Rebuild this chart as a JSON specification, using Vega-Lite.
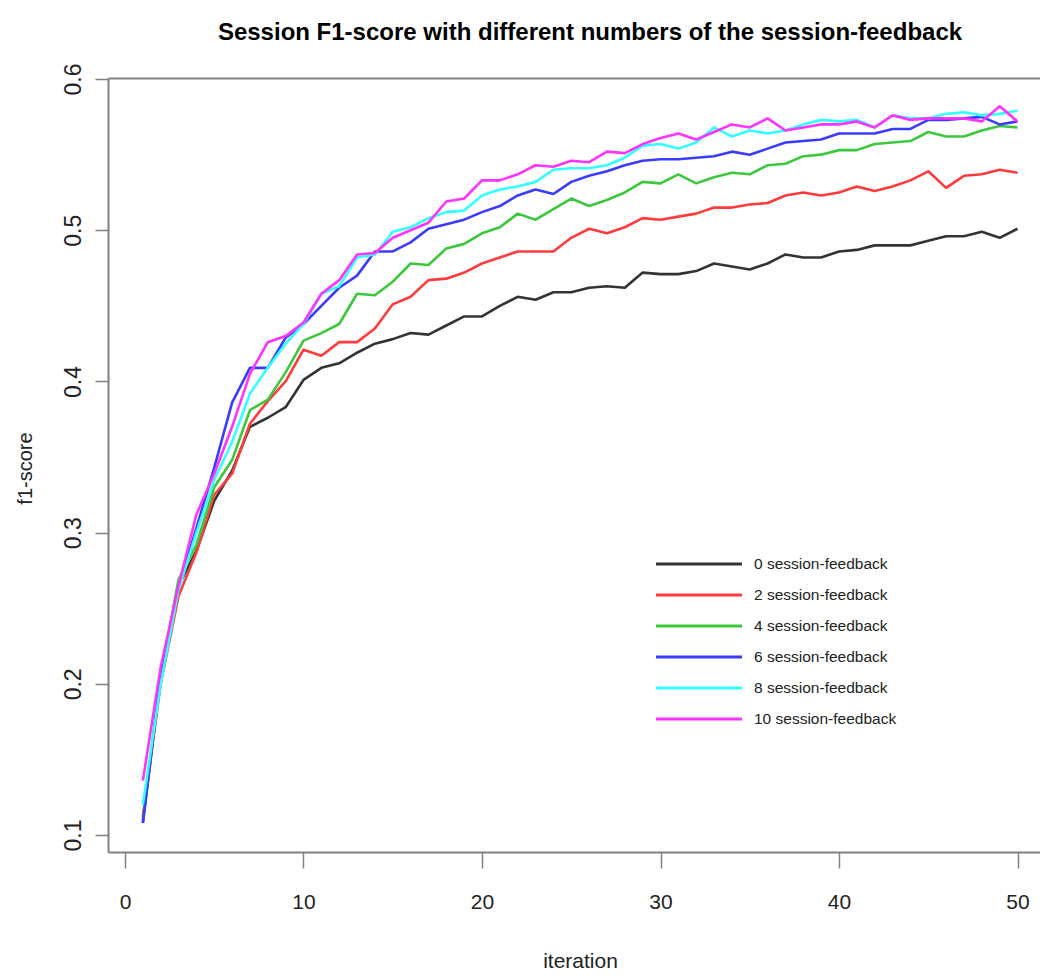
{
  "$schema": "https://vega.github.io/schema/vega-lite/v6.json",
  "width": 932,
  "height": 774,
  "autosize": {"type": "none"},
  "padding": {"left": 108, "top": 78, "right": 0, "bottom": 124},
  "background": "white",
  "title": {
    "text": "Session F1-score with different numbers of the session-feedback",
    "font": "Liberation Sans",
    "fontSize": 24,
    "fontWeight": "bold",
    "color": "#000000",
    "anchor": "middle",
    "dx": 16,
    "baseline": "alphabetic",
    "offset": -1
  },
  "config": {
    "view": {"stroke": null},
    "axis": {"grid": false, "domainColor": "#808080", "domainWidth": 2, "tickColor": "#808080", "tickWidth": 1.5}
  },
  "data": {
    "values": [
      {"iteration":1,"series":"0 session-feedback","f1":0.108},{"iteration":2,"series":"0 session-feedback","f1":0.205},{"iteration":3,"series":"0 session-feedback","f1":0.265},{"iteration":4,"series":"0 session-feedback","f1":0.288},{"iteration":5,"series":"0 session-feedback","f1":0.321},{"iteration":6,"series":"0 session-feedback","f1":0.341},{"iteration":7,"series":"0 session-feedback","f1":0.370},{"iteration":8,"series":"0 session-feedback","f1":0.376},{"iteration":9,"series":"0 session-feedback","f1":0.383},{"iteration":10,"series":"0 session-feedback","f1":0.401},
      {"iteration":11,"series":"0 session-feedback","f1":0.409},{"iteration":12,"series":"0 session-feedback","f1":0.412},{"iteration":13,"series":"0 session-feedback","f1":0.419},{"iteration":14,"series":"0 session-feedback","f1":0.425},{"iteration":15,"series":"0 session-feedback","f1":0.428},{"iteration":16,"series":"0 session-feedback","f1":0.432},{"iteration":17,"series":"0 session-feedback","f1":0.431},{"iteration":18,"series":"0 session-feedback","f1":0.437},{"iteration":19,"series":"0 session-feedback","f1":0.443},{"iteration":20,"series":"0 session-feedback","f1":0.443},
      {"iteration":21,"series":"0 session-feedback","f1":0.450},{"iteration":22,"series":"0 session-feedback","f1":0.456},{"iteration":23,"series":"0 session-feedback","f1":0.454},{"iteration":24,"series":"0 session-feedback","f1":0.459},{"iteration":25,"series":"0 session-feedback","f1":0.459},{"iteration":26,"series":"0 session-feedback","f1":0.462},{"iteration":27,"series":"0 session-feedback","f1":0.463},{"iteration":28,"series":"0 session-feedback","f1":0.462},{"iteration":29,"series":"0 session-feedback","f1":0.472},{"iteration":30,"series":"0 session-feedback","f1":0.471},
      {"iteration":31,"series":"0 session-feedback","f1":0.471},{"iteration":32,"series":"0 session-feedback","f1":0.473},{"iteration":33,"series":"0 session-feedback","f1":0.478},{"iteration":34,"series":"0 session-feedback","f1":0.476},{"iteration":35,"series":"0 session-feedback","f1":0.474},{"iteration":36,"series":"0 session-feedback","f1":0.478},{"iteration":37,"series":"0 session-feedback","f1":0.484},{"iteration":38,"series":"0 session-feedback","f1":0.482},{"iteration":39,"series":"0 session-feedback","f1":0.482},{"iteration":40,"series":"0 session-feedback","f1":0.486},
      {"iteration":41,"series":"0 session-feedback","f1":0.487},{"iteration":42,"series":"0 session-feedback","f1":0.490},{"iteration":43,"series":"0 session-feedback","f1":0.490},{"iteration":44,"series":"0 session-feedback","f1":0.490},{"iteration":45,"series":"0 session-feedback","f1":0.493},{"iteration":46,"series":"0 session-feedback","f1":0.496},{"iteration":47,"series":"0 session-feedback","f1":0.496},{"iteration":48,"series":"0 session-feedback","f1":0.499},{"iteration":49,"series":"0 session-feedback","f1":0.495},{"iteration":50,"series":"0 session-feedback","f1":0.501},

      {"iteration":1,"series":"2 session-feedback","f1":0.112},{"iteration":2,"series":"2 session-feedback","f1":0.200},{"iteration":3,"series":"2 session-feedback","f1":0.258},{"iteration":4,"series":"2 session-feedback","f1":0.287},{"iteration":5,"series":"2 session-feedback","f1":0.325},{"iteration":6,"series":"2 session-feedback","f1":0.339},{"iteration":7,"series":"2 session-feedback","f1":0.372},{"iteration":8,"series":"2 session-feedback","f1":0.387},{"iteration":9,"series":"2 session-feedback","f1":0.400},{"iteration":10,"series":"2 session-feedback","f1":0.421},
      {"iteration":11,"series":"2 session-feedback","f1":0.417},{"iteration":12,"series":"2 session-feedback","f1":0.426},{"iteration":13,"series":"2 session-feedback","f1":0.426},{"iteration":14,"series":"2 session-feedback","f1":0.435},{"iteration":15,"series":"2 session-feedback","f1":0.451},{"iteration":16,"series":"2 session-feedback","f1":0.456},{"iteration":17,"series":"2 session-feedback","f1":0.467},{"iteration":18,"series":"2 session-feedback","f1":0.468},{"iteration":19,"series":"2 session-feedback","f1":0.472},{"iteration":20,"series":"2 session-feedback","f1":0.478},
      {"iteration":21,"series":"2 session-feedback","f1":0.482},{"iteration":22,"series":"2 session-feedback","f1":0.486},{"iteration":23,"series":"2 session-feedback","f1":0.486},{"iteration":24,"series":"2 session-feedback","f1":0.486},{"iteration":25,"series":"2 session-feedback","f1":0.495},{"iteration":26,"series":"2 session-feedback","f1":0.501},{"iteration":27,"series":"2 session-feedback","f1":0.498},{"iteration":28,"series":"2 session-feedback","f1":0.502},{"iteration":29,"series":"2 session-feedback","f1":0.508},{"iteration":30,"series":"2 session-feedback","f1":0.507},
      {"iteration":31,"series":"2 session-feedback","f1":0.509},{"iteration":32,"series":"2 session-feedback","f1":0.511},{"iteration":33,"series":"2 session-feedback","f1":0.515},{"iteration":34,"series":"2 session-feedback","f1":0.515},{"iteration":35,"series":"2 session-feedback","f1":0.517},{"iteration":36,"series":"2 session-feedback","f1":0.518},{"iteration":37,"series":"2 session-feedback","f1":0.523},{"iteration":38,"series":"2 session-feedback","f1":0.525},{"iteration":39,"series":"2 session-feedback","f1":0.523},{"iteration":40,"series":"2 session-feedback","f1":0.525},
      {"iteration":41,"series":"2 session-feedback","f1":0.529},{"iteration":42,"series":"2 session-feedback","f1":0.526},{"iteration":43,"series":"2 session-feedback","f1":0.529},{"iteration":44,"series":"2 session-feedback","f1":0.533},{"iteration":45,"series":"2 session-feedback","f1":0.539},{"iteration":46,"series":"2 session-feedback","f1":0.528},{"iteration":47,"series":"2 session-feedback","f1":0.536},{"iteration":48,"series":"2 session-feedback","f1":0.537},{"iteration":49,"series":"2 session-feedback","f1":0.540},{"iteration":50,"series":"2 session-feedback","f1":0.538},

      {"iteration":1,"series":"4 session-feedback","f1":0.110},{"iteration":2,"series":"4 session-feedback","f1":0.205},{"iteration":3,"series":"4 session-feedback","f1":0.269},{"iteration":4,"series":"4 session-feedback","f1":0.292},{"iteration":5,"series":"4 session-feedback","f1":0.330},{"iteration":6,"series":"4 session-feedback","f1":0.348},{"iteration":7,"series":"4 session-feedback","f1":0.381},{"iteration":8,"series":"4 session-feedback","f1":0.388},{"iteration":9,"series":"4 session-feedback","f1":0.406},{"iteration":10,"series":"4 session-feedback","f1":0.427},
      {"iteration":11,"series":"4 session-feedback","f1":0.432},{"iteration":12,"series":"4 session-feedback","f1":0.438},{"iteration":13,"series":"4 session-feedback","f1":0.458},{"iteration":14,"series":"4 session-feedback","f1":0.457},{"iteration":15,"series":"4 session-feedback","f1":0.466},{"iteration":16,"series":"4 session-feedback","f1":0.478},{"iteration":17,"series":"4 session-feedback","f1":0.477},{"iteration":18,"series":"4 session-feedback","f1":0.488},{"iteration":19,"series":"4 session-feedback","f1":0.491},{"iteration":20,"series":"4 session-feedback","f1":0.498},
      {"iteration":21,"series":"4 session-feedback","f1":0.502},{"iteration":22,"series":"4 session-feedback","f1":0.511},{"iteration":23,"series":"4 session-feedback","f1":0.507},{"iteration":24,"series":"4 session-feedback","f1":0.514},{"iteration":25,"series":"4 session-feedback","f1":0.521},{"iteration":26,"series":"4 session-feedback","f1":0.516},{"iteration":27,"series":"4 session-feedback","f1":0.520},{"iteration":28,"series":"4 session-feedback","f1":0.525},{"iteration":29,"series":"4 session-feedback","f1":0.532},{"iteration":30,"series":"4 session-feedback","f1":0.531},
      {"iteration":31,"series":"4 session-feedback","f1":0.537},{"iteration":32,"series":"4 session-feedback","f1":0.531},{"iteration":33,"series":"4 session-feedback","f1":0.535},{"iteration":34,"series":"4 session-feedback","f1":0.538},{"iteration":35,"series":"4 session-feedback","f1":0.537},{"iteration":36,"series":"4 session-feedback","f1":0.543},{"iteration":37,"series":"4 session-feedback","f1":0.544},{"iteration":38,"series":"4 session-feedback","f1":0.549},{"iteration":39,"series":"4 session-feedback","f1":0.550},{"iteration":40,"series":"4 session-feedback","f1":0.553},
      {"iteration":41,"series":"4 session-feedback","f1":0.553},{"iteration":42,"series":"4 session-feedback","f1":0.557},{"iteration":43,"series":"4 session-feedback","f1":0.558},{"iteration":44,"series":"4 session-feedback","f1":0.559},{"iteration":45,"series":"4 session-feedback","f1":0.565},{"iteration":46,"series":"4 session-feedback","f1":0.562},{"iteration":47,"series":"4 session-feedback","f1":0.562},{"iteration":48,"series":"4 session-feedback","f1":0.566},{"iteration":49,"series":"4 session-feedback","f1":0.569},{"iteration":50,"series":"4 session-feedback","f1":0.568},

      {"iteration":1,"series":"6 session-feedback","f1":0.108},{"iteration":2,"series":"6 session-feedback","f1":0.206},{"iteration":3,"series":"6 session-feedback","f1":0.264},{"iteration":4,"series":"6 session-feedback","f1":0.303},{"iteration":5,"series":"6 session-feedback","f1":0.343},{"iteration":6,"series":"6 session-feedback","f1":0.386},{"iteration":7,"series":"6 session-feedback","f1":0.409},{"iteration":8,"series":"6 session-feedback","f1":0.409},{"iteration":9,"series":"6 session-feedback","f1":0.429},{"iteration":10,"series":"6 session-feedback","f1":0.438},
      {"iteration":11,"series":"6 session-feedback","f1":0.450},{"iteration":12,"series":"6 session-feedback","f1":0.462},{"iteration":13,"series":"6 session-feedback","f1":0.470},{"iteration":14,"series":"6 session-feedback","f1":0.486},{"iteration":15,"series":"6 session-feedback","f1":0.486},{"iteration":16,"series":"6 session-feedback","f1":0.492},{"iteration":17,"series":"6 session-feedback","f1":0.501},{"iteration":18,"series":"6 session-feedback","f1":0.504},{"iteration":19,"series":"6 session-feedback","f1":0.507},{"iteration":20,"series":"6 session-feedback","f1":0.512},
      {"iteration":21,"series":"6 session-feedback","f1":0.516},{"iteration":22,"series":"6 session-feedback","f1":0.523},{"iteration":23,"series":"6 session-feedback","f1":0.527},{"iteration":24,"series":"6 session-feedback","f1":0.524},{"iteration":25,"series":"6 session-feedback","f1":0.532},{"iteration":26,"series":"6 session-feedback","f1":0.536},{"iteration":27,"series":"6 session-feedback","f1":0.539},{"iteration":28,"series":"6 session-feedback","f1":0.543},{"iteration":29,"series":"6 session-feedback","f1":0.546},{"iteration":30,"series":"6 session-feedback","f1":0.547},
      {"iteration":31,"series":"6 session-feedback","f1":0.547},{"iteration":32,"series":"6 session-feedback","f1":0.548},{"iteration":33,"series":"6 session-feedback","f1":0.549},{"iteration":34,"series":"6 session-feedback","f1":0.552},{"iteration":35,"series":"6 session-feedback","f1":0.550},{"iteration":36,"series":"6 session-feedback","f1":0.554},{"iteration":37,"series":"6 session-feedback","f1":0.558},{"iteration":38,"series":"6 session-feedback","f1":0.559},{"iteration":39,"series":"6 session-feedback","f1":0.560},{"iteration":40,"series":"6 session-feedback","f1":0.564},
      {"iteration":41,"series":"6 session-feedback","f1":0.564},{"iteration":42,"series":"6 session-feedback","f1":0.564},{"iteration":43,"series":"6 session-feedback","f1":0.567},{"iteration":44,"series":"6 session-feedback","f1":0.567},{"iteration":45,"series":"6 session-feedback","f1":0.573},{"iteration":46,"series":"6 session-feedback","f1":0.573},{"iteration":47,"series":"6 session-feedback","f1":0.574},{"iteration":48,"series":"6 session-feedback","f1":0.575},{"iteration":49,"series":"6 session-feedback","f1":0.570},{"iteration":50,"series":"6 session-feedback","f1":0.572},

      {"iteration":1,"series":"8 session-feedback","f1":0.120},{"iteration":2,"series":"8 session-feedback","f1":0.200},{"iteration":3,"series":"8 session-feedback","f1":0.262},{"iteration":4,"series":"8 session-feedback","f1":0.300},{"iteration":5,"series":"8 session-feedback","f1":0.335},{"iteration":6,"series":"8 session-feedback","f1":0.360},{"iteration":7,"series":"8 session-feedback","f1":0.392},{"iteration":8,"series":"8 session-feedback","f1":0.409},{"iteration":9,"series":"8 session-feedback","f1":0.425},{"iteration":10,"series":"8 session-feedback","f1":0.438},
      {"iteration":11,"series":"8 session-feedback","f1":0.458},{"iteration":12,"series":"8 session-feedback","f1":0.463},{"iteration":13,"series":"8 session-feedback","f1":0.482},{"iteration":14,"series":"8 session-feedback","f1":0.484},{"iteration":15,"series":"8 session-feedback","f1":0.499},{"iteration":16,"series":"8 session-feedback","f1":0.502},{"iteration":17,"series":"8 session-feedback","f1":0.508},{"iteration":18,"series":"8 session-feedback","f1":0.512},{"iteration":19,"series":"8 session-feedback","f1":0.513},{"iteration":20,"series":"8 session-feedback","f1":0.523},
      {"iteration":21,"series":"8 session-feedback","f1":0.527},{"iteration":22,"series":"8 session-feedback","f1":0.529},{"iteration":23,"series":"8 session-feedback","f1":0.532},{"iteration":24,"series":"8 session-feedback","f1":0.540},{"iteration":25,"series":"8 session-feedback","f1":0.541},{"iteration":26,"series":"8 session-feedback","f1":0.541},{"iteration":27,"series":"8 session-feedback","f1":0.543},{"iteration":28,"series":"8 session-feedback","f1":0.548},{"iteration":29,"series":"8 session-feedback","f1":0.556},{"iteration":30,"series":"8 session-feedback","f1":0.557},
      {"iteration":31,"series":"8 session-feedback","f1":0.554},{"iteration":32,"series":"8 session-feedback","f1":0.558},{"iteration":33,"series":"8 session-feedback","f1":0.568},{"iteration":34,"series":"8 session-feedback","f1":0.562},{"iteration":35,"series":"8 session-feedback","f1":0.566},{"iteration":36,"series":"8 session-feedback","f1":0.564},{"iteration":37,"series":"8 session-feedback","f1":0.566},{"iteration":38,"series":"8 session-feedback","f1":0.570},{"iteration":39,"series":"8 session-feedback","f1":0.573},{"iteration":40,"series":"8 session-feedback","f1":0.572},
      {"iteration":41,"series":"8 session-feedback","f1":0.573},{"iteration":42,"series":"8 session-feedback","f1":0.568},{"iteration":43,"series":"8 session-feedback","f1":0.576},{"iteration":44,"series":"8 session-feedback","f1":0.574},{"iteration":45,"series":"8 session-feedback","f1":0.574},{"iteration":46,"series":"8 session-feedback","f1":0.577},{"iteration":47,"series":"8 session-feedback","f1":0.578},{"iteration":48,"series":"8 session-feedback","f1":0.576},{"iteration":49,"series":"8 session-feedback","f1":0.577},{"iteration":50,"series":"8 session-feedback","f1":0.579},

      {"iteration":1,"series":"10 session-feedback","f1":0.136},{"iteration":2,"series":"10 session-feedback","f1":0.211},{"iteration":3,"series":"10 session-feedback","f1":0.265},{"iteration":4,"series":"10 session-feedback","f1":0.312},{"iteration":5,"series":"10 session-feedback","f1":0.339},{"iteration":6,"series":"10 session-feedback","f1":0.370},{"iteration":7,"series":"10 session-feedback","f1":0.405},{"iteration":8,"series":"10 session-feedback","f1":0.426},{"iteration":9,"series":"10 session-feedback","f1":0.430},{"iteration":10,"series":"10 session-feedback","f1":0.439},
      {"iteration":11,"series":"10 session-feedback","f1":0.458},{"iteration":12,"series":"10 session-feedback","f1":0.467},{"iteration":13,"series":"10 session-feedback","f1":0.484},{"iteration":14,"series":"10 session-feedback","f1":0.485},{"iteration":15,"series":"10 session-feedback","f1":0.495},{"iteration":16,"series":"10 session-feedback","f1":0.500},{"iteration":17,"series":"10 session-feedback","f1":0.505},{"iteration":18,"series":"10 session-feedback","f1":0.519},{"iteration":19,"series":"10 session-feedback","f1":0.521},{"iteration":20,"series":"10 session-feedback","f1":0.533},
      {"iteration":21,"series":"10 session-feedback","f1":0.533},{"iteration":22,"series":"10 session-feedback","f1":0.537},{"iteration":23,"series":"10 session-feedback","f1":0.543},{"iteration":24,"series":"10 session-feedback","f1":0.542},{"iteration":25,"series":"10 session-feedback","f1":0.546},{"iteration":26,"series":"10 session-feedback","f1":0.545},{"iteration":27,"series":"10 session-feedback","f1":0.552},{"iteration":28,"series":"10 session-feedback","f1":0.551},{"iteration":29,"series":"10 session-feedback","f1":0.557},{"iteration":30,"series":"10 session-feedback","f1":0.561},
      {"iteration":31,"series":"10 session-feedback","f1":0.564},{"iteration":32,"series":"10 session-feedback","f1":0.560},{"iteration":33,"series":"10 session-feedback","f1":0.565},{"iteration":34,"series":"10 session-feedback","f1":0.570},{"iteration":35,"series":"10 session-feedback","f1":0.568},{"iteration":36,"series":"10 session-feedback","f1":0.574},{"iteration":37,"series":"10 session-feedback","f1":0.566},{"iteration":38,"series":"10 session-feedback","f1":0.568},{"iteration":39,"series":"10 session-feedback","f1":0.570},{"iteration":40,"series":"10 session-feedback","f1":0.570},
      {"iteration":41,"series":"10 session-feedback","f1":0.572},{"iteration":42,"series":"10 session-feedback","f1":0.568},{"iteration":43,"series":"10 session-feedback","f1":0.576},{"iteration":44,"series":"10 session-feedback","f1":0.573},{"iteration":45,"series":"10 session-feedback","f1":0.574},{"iteration":46,"series":"10 session-feedback","f1":0.574},{"iteration":47,"series":"10 session-feedback","f1":0.574},{"iteration":48,"series":"10 session-feedback","f1":0.572},{"iteration":49,"series":"10 session-feedback","f1":0.582},{"iteration":50,"series":"10 session-feedback","f1":0.572}
    ]
  },
  "layer": [
    {
      "mark": {"type": "line", "strokeWidth": 2.6, "opacity": 0},
      "encoding": {
        "x": {
          "field": "iteration", "type": "quantitative",
          "scale": {"domain": [-0.952, 51.26], "nice": false, "zero": false},
          "axis": {"orient": "top", "title": null, "labels": false, "ticks": false, "domain": true}
        },
        "y": {"field": "f1", "type": "quantitative", "scale": {"domain": [0.0888, 0.6007], "nice": false, "zero": false}},
        "detail": {"field": "series"}
      }
    },
    {
      "mark": {"type": "line", "strokeWidth": 2.6, "strokeJoin": "round"},
      "encoding": {
        "x": {
          "field": "iteration", "type": "quantitative",
          "axis": {
            "orient": "bottom", "values": [0, 10, 20, 30, 40, 50],
            "tickSize": 16, "labelPadding": 23,
            "labelFont": "Liberation Sans", "labelFontSize": 21, "labelColor": "#222222",
            "title": "iteration", "titleFont": "Liberation Sans", "titleFontSize": 21,
            "titleFontWeight": "normal", "titleColor": "#222222",
            "titleX": 472, "titleY": 115, "titleBaseline": "alphabetic", "titleAlign": "center"
          }
        },
        "y": {
          "field": "f1", "type": "quantitative",
          "axis": {
            "orient": "left", "values": [0.1, 0.2, 0.3, 0.4, 0.5, 0.6], "format": ".1f",
            "tickSize": 13, "labelPadding": 15, "labelAngle": -90,
            "labelAlign": "center", "labelBaseline": "alphabetic",
            "labelFont": "Liberation Sans", "labelFontSize": 23, "labelColor": "#222222",
            "title": "f1-score", "titleFont": "Liberation Sans", "titleFontSize": 20,
            "titleFontWeight": "normal", "titleColor": "#222222",
            "titleAngle": -90, "titleAlign": "center", "titleBaseline": "middle",
            "titleX": -83, "titleY": 390
          }
        },
        "color": {
          "field": "series", "type": "nominal",
          "scale": {
            "domain": ["0 session-feedback", "2 session-feedback", "4 session-feedback", "6 session-feedback", "8 session-feedback", "10 session-feedback"],
            "range": ["#333333", "#ff3b3b", "#3cc83c", "#3b3bff", "#33ffff", "#ff33ff"]
          },
          "legend": {
            "orient": "none", "legendX": 546, "legendY": 478, "title": null,
            "symbolType": "stroke", "symbolSize": 7400, "symbolStrokeWidth": 3,
            "clipHeight": 16, "rowPadding": 14,
            "labelFont": "Liberation Sans", "labelFontSize": 15.5, "labelColor": "#222222",
            "labelOffset": 10
          }
        }
      }
    }
  ],
  "resolve": {"axis": {"x": "independent"}}
}
